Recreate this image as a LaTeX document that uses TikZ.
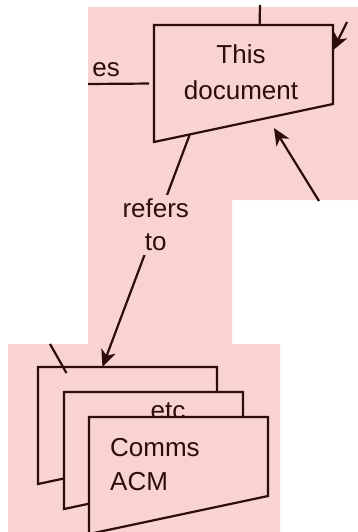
\documentclass[tikz,border=0pt]{standalone}
\usepackage{fontspec}
\setmainfont{Liberation Sans}
\usetikzlibrary{arrows.meta, positioning, calc}
\definecolor{sheetpink}{RGB}{249,210,210}
\definecolor{inkbrown}{RGB}{45,12,12}

\begin{document}
\begin{tikzpicture}[
  x=1pt, y=-1pt,
  link/.style={draw=inkbrown, line width=2.2pt},
  arrow/.style={link, -{Stealth[length=17pt, width=15pt, inset=5pt]}},
  doctext/.style={font=\fontsize{26}{36}\selectfont,
    text=inkbrown, inner sep=0pt},
  linktext/.style={doctext, align=center, fill=sheetpink,
    inner sep=4pt, font=\fontsize{26}{33}\selectfont},
  docpage/.pic={
    \draw[draw=inkbrown, fill=sheetpink, line width=2.2pt]
      (0,0) coordinate (-tl) -- (179,0) coordinate (-tr)
      -- (179,79) coordinate (-br) -- (0,117) coordinate (-bl)
      -- cycle;
  }
]
\useasboundingbox (0,0) rectangle (358,532);

% Pink page background
\fill[sheetpink] (88,7) -| (358,200) -| (232,344) -| (280,532)
  -| (8,344) -| (88,7) -- cycle;

% This document
\pic (thisdoc) at (154,25) {docpage};
\node[doctext, align=center] (thistext) at (241,72)
  {This\\document};

% Stack of papers
\pic (backdoc) at (38,367) {docpage};
\pic (middoc) at (64,392) {docpage};
\node[doctext, anchor=base] (etc) at (168,419) {etc};
\pic (frontdoc) at (89,417) {docpage};
\node[doctext, align=left, anchor=west,
      font=\fontsize{26}{34}\selectfont] (commstext) at (110,465)
  {Comms\\ACM};

% Loose ends from the rest of the diagram
\coordinate (topin) at (260,5);
\coordinate (leftin) at (88,84);
\coordinate (rightin) at (347,22);
\coordinate (upin) at (319,201);
\coordinate (stackin) at (50,344);

% Arrows
\draw[link] (topin) -- ($(thisdoc-tl)!0.59!(thisdoc-tr)$);
\draw[link, shorten >=5pt] (leftin)
  -- ($(thisdoc-tl)!0.5!(thisdoc-bl)$);
\node[doctext, anchor=base east] (esword) at (120,77) {es};
\draw[arrow] (rightin) -- ($(thisdoc-tr)!0.32!(thisdoc-br)$);
\draw[arrow, shorten >=12pt] (upin)
  -- ($(thisdoc-bl)!0.635!(thisdoc-br)$);
\draw[arrow] ($(thisdoc-bl)!0.2!(thisdoc-br)$)
  -- node[linktext, pos=0.39] (refers) {refers\\to}
  ($(backdoc-tl)!0.36!(backdoc-tr)$);
\draw[link, shorten >=-7pt] (stackin)
  -- ($(backdoc-tl)!0.14!(backdoc-tr)$);
\end{tikzpicture}
\end{document}
